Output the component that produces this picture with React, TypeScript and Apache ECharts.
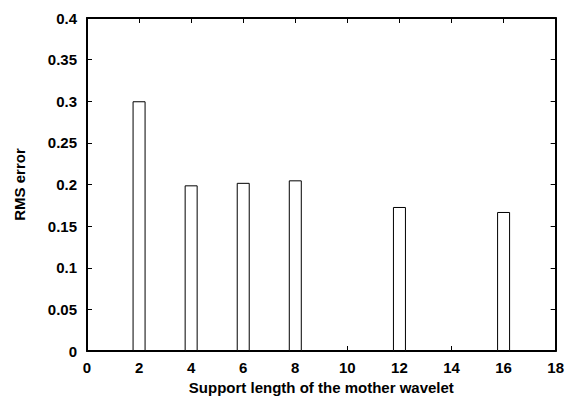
import React, { useEffect, useRef } from "react";
import * as echarts from "echarts";

const supportLengths = [2, 4, 6, 8, 12, 16];
const rmsErrors = [0.3, 0.199, 0.202, 0.205, 0.173, 0.167];

const xTicks = { min: 0, max: 18, interval: 2 };
const yTicks = { min: 0, max: 0.4, interval: 0.05 };

const FONT = "'Liberation Sans', Arial, sans-serif";

export default function App() {
  const ref = useRef<HTMLDivElement>(null);
  useEffect(() => {
    if (!ref.current) return;
    const chart = echarts.init(ref.current, null, { renderer: "svg" });
    const axisLine = { show: true, onZero: false, lineStyle: { color: "#000", width: 2 } };
    const axisTick = { show: true, inside: true, length: 5, lineStyle: { color: "#000", width: 1 } };
    const labelStyle = { color: "#000", fontFamily: FONT, fontWeight: "bold" as const, fontSize: 15 };
    chart.setOption({
      animation: false,
      backgroundColor: "#fff",
      grid: { left: 87, right: 8, top: 18, bottom: 50, containLabel: false },
      xAxis: [
        {
          type: "value",
          ...xTicks,
          axisLine,
          axisTick,
          splitLine: { show: false },
          axisLabel: { ...labelStyle, margin: 9 },
          name: "Support length of the mother wavelet",
          nameLocation: "middle",
          nameGap: 26,
          nameTextStyle: { color: "#000", fontFamily: FONT, fontWeight: "bold", fontSize: 15 },
        },
        {
          type: "value",
          position: "top",
          ...xTicks,
          axisLine,
          axisTick,
          splitLine: { show: false },
          axisLabel: { show: false },
        },
      ],
      yAxis: [
        {
          type: "value",
          ...yTicks,
          axisLine,
          axisTick,
          splitLine: { show: false },
          axisLabel: { ...labelStyle, margin: 10 },
          name: "RMS error",
          nameLocation: "middle",
          nameGap: 60,
          nameTextStyle: { color: "#000", fontFamily: FONT, fontWeight: "bold", fontSize: 15 },
        },
        {
          type: "value",
          position: "right",
          ...yTicks,
          axisLine,
          axisTick,
          splitLine: { show: false },
          axisLabel: { show: false },
        },
      ],
      series: [
        {
          type: "bar",
          xAxisIndex: 0,
          yAxisIndex: 0,
          barWidth: 13,
          data: supportLengths.map((x, i) => [x, rmsErrors[i]]),
          itemStyle: { color: "#fff", borderColor: "#000", borderWidth: 1 },
        },
      ],
    });
    return () => chart.dispose();
  }, []);
  return <div ref={ref} style={{ width: 567, height: 401, position: "absolute", left: 0, top: 0 }} />;
}
